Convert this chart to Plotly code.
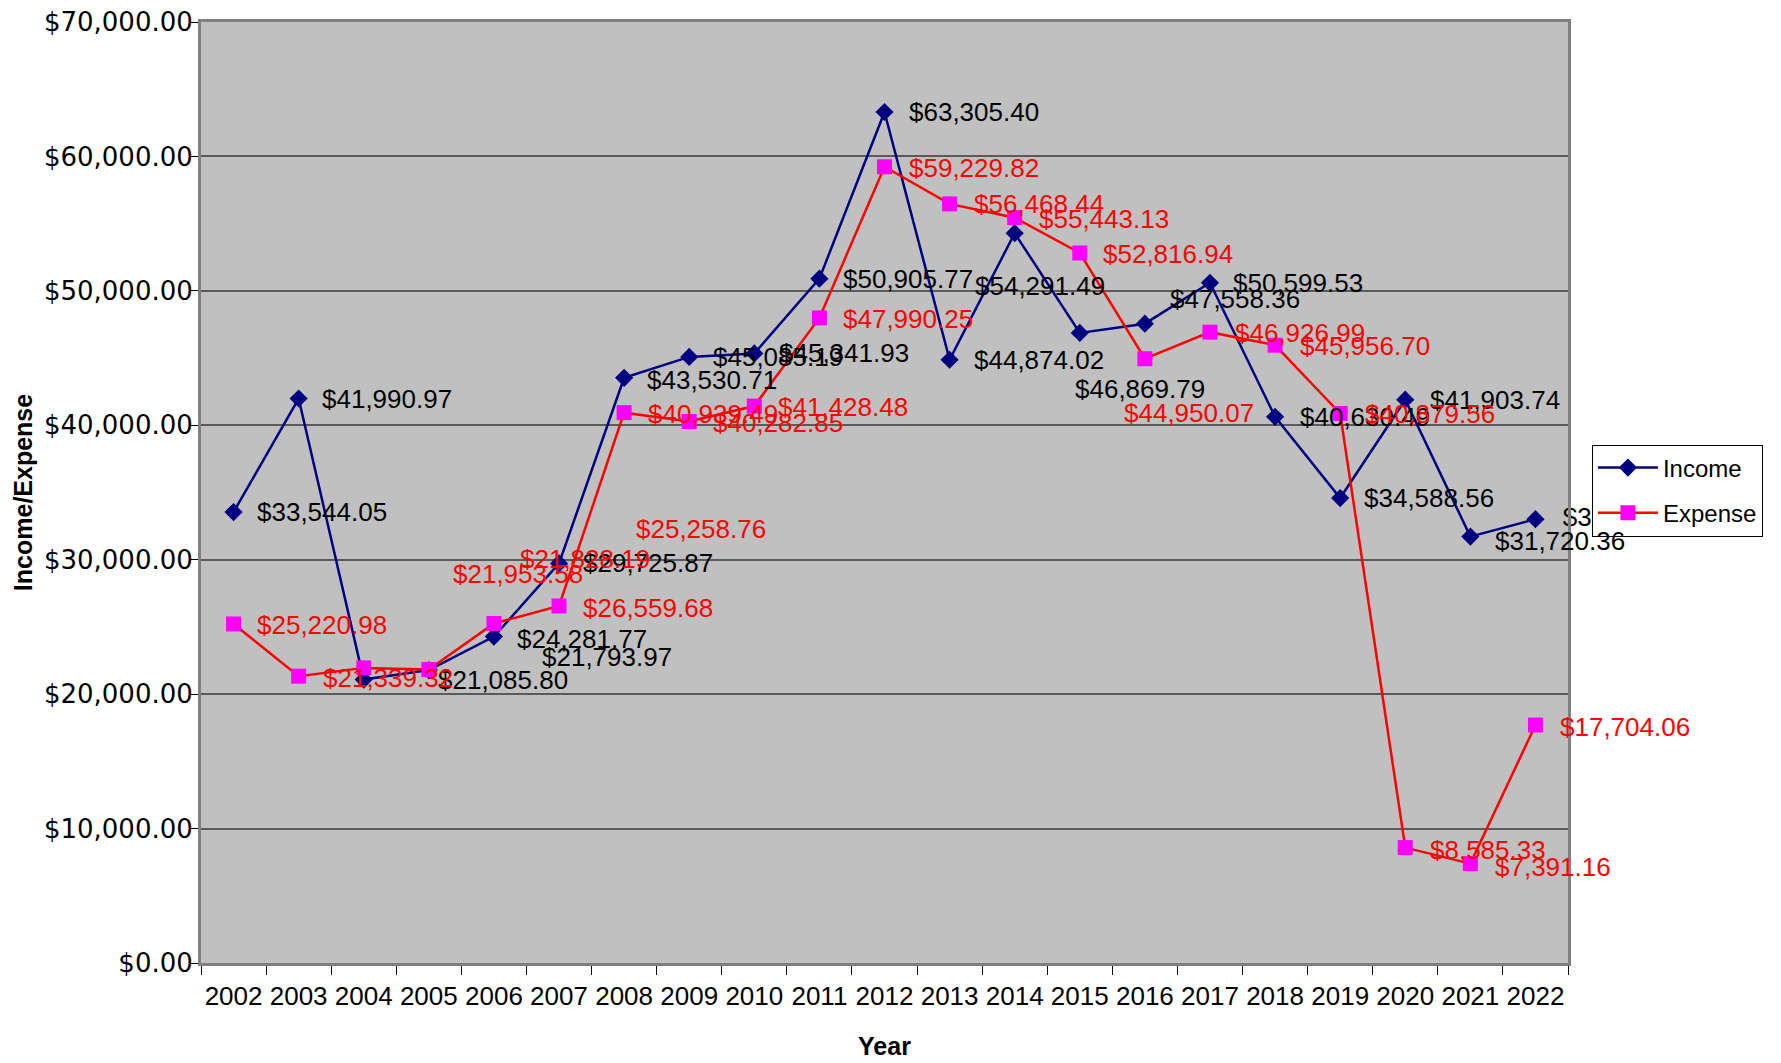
import plotly.graph_objects as go

years = [str(y) for y in range(2002, 2023)]
income = [33544.05, 41990.97, 21085.80, 21793.97, 24281.77, 29725.87, 43530.71,
          45085.19, 45341.93, 50905.77, 63305.40, 44874.02, 54291.49, 46869.79,
          47558.36, 50599.53, 40630.49, 34588.56, 41903.74, 31720.36, 33018.27]
expense = [25220.98, 21339.32, 21953.58, 21828.19, 25258.76, 26559.68, 40939.49,
           40282.85, 41428.48, 47990.25, 59229.82, 56468.44, 55443.13, 52816.94,
           44950.07, 46926.99, 45956.70, 40879.56, 8585.33, 7391.16, 17704.06]

# label offsets in pixels (dx right, dy down) relative to each point
inc_dx = [23, 23, 74, 113, 23, 24, 23, 24, 25, 24, 24, 24, -40, -5, 25, 23, 25, 24, 25, 25, 25]
inc_dy = [0, 0, 0, -13, 2, 0, 2, 0, 0, 0, 0, 0, 53, 56, -25, 0, 0, 0, 0, 4, 1]
exp_dx = [23, 24, 89, 91, 142, 24, 24, 24, 24, 24, 24, 24, 24, 23, -21, 25, 25, 25, 25, 25, 25]
exp_dy = [1, 2, -94, -111, -94, 2, 1, 2, 1, 1, 1, 0, 1, 1, 54, 1, 1, 1, 2, 3, 2]

FONT = "Liberation Sans, Arial, sans-serif"
TICKFONT = "DejaVu Sans, Verdana, sans-serif"

fig = go.Figure()
fig.add_trace(go.Scatter(
    x=years, y=income, name="Income", mode="lines+markers", legendgroup="inc",
    line=dict(color="#000080", width=2.5),
    marker=dict(symbol="diamond", size=14, color="#000080"),
))
fig.add_trace(go.Scatter(
    x=years, y=expense, name="Expense", mode="lines+markers", legendgroup="exp",
    line=dict(color="#FF0000", width=2.5),
    marker=dict(symbol="square", size=15, color="#FF00FF"),
))

# last income label sits under the legend in the reference: draw it in the plot layer
last = len(years) - 1
fig.add_trace(go.Scatter(
    x=[years[last]], y=[income[last]], mode="markers+text", showlegend=False,
    legendgroup="exp",
    text=[f"${income[last]:,.2f}"], textposition="middle right",
    marker=dict(size=42, color="rgba(0,0,0,0)"), cliponaxis=False,
    textfont=dict(family=FONT, size=26, color="#000000"), hoverinfo="skip",
))

annotations = []
for vals, dxs, dys, col, skip in ((income, inc_dx, inc_dy, "#000000", last),
                                  (expense, exp_dx, exp_dy, "#FF0000", None)):
    for i, (v, dx, dy) in enumerate(zip(vals, dxs, dys)):
        if i == skip:
            continue
        annotations.append(dict(
            x=i, y=v, xref="x", yref="y", text=f"${v:,.2f}",
            showarrow=False, xanchor="left", yanchor="middle",
            xshift=dx - 2, yshift=-dy,
            font=dict(family=FONT, size=26, color=col),
        ))

fig.update_layout(
    width=1781, height=1063,
    paper_bgcolor="white", plot_bgcolor="#C0C0C0",
    margin=dict(l=201, r=213, t=22, b=100, autoexpand=False),
    font=dict(family=FONT, size=26, color="black"),
    showlegend=True,
    legend=dict(
        x=1.0175, y=0.551, xanchor="left", yanchor="top",
        bgcolor="white", bordercolor="black", borderwidth=1,
        font=dict(family=FONT, size=24, color="black"),
        itemwidth=60, tracegroupgap=11, traceorder="grouped",
    ),
    annotations=annotations,
    xaxis=dict(
        type="category", categoryorder="array", categoryarray=years,
        range=[-0.5, len(years) - 0.5], autorange=False,
        tickson="boundaries", ticks="outside", ticklen=9, tickangle=0,
        ticklabelstandoff=8,
        tickcolor="#000000", tickwidth=1, automargin=False,
        showgrid=False, showline=True, linecolor="#808080", linewidth=3, mirror=True,
        tickfont=dict(family=FONT, size=26, color="black"),
        title=dict(text="<b>Year</b>", font=dict(family=FONT, size=25, color="black"), standoff=28),
    ),
    yaxis=dict(
        range=[0, 70000], autorange=False, dtick=10000, tickformat="$,.2f",
        ticks="outside", ticklen=8, tickcolor="#000000", automargin=False,
        ticklabelstandoff=-8,
        showgrid=True, gridcolor="#5a5a5a", gridwidth=1.5,
        showline=True, linecolor="#808080", linewidth=3, mirror=True,
        zeroline=False,
        tickfont=dict(family=TICKFONT, size=26, color="black"),
        title=dict(text="<b>Income/Expense</b>", font=dict(family=FONT, size=25, color="black"), standoff=5),
    ),
)

fig.write_html("out.html", config={"displayModeBar": False},
               post_script="document.body.style.margin='0';")
